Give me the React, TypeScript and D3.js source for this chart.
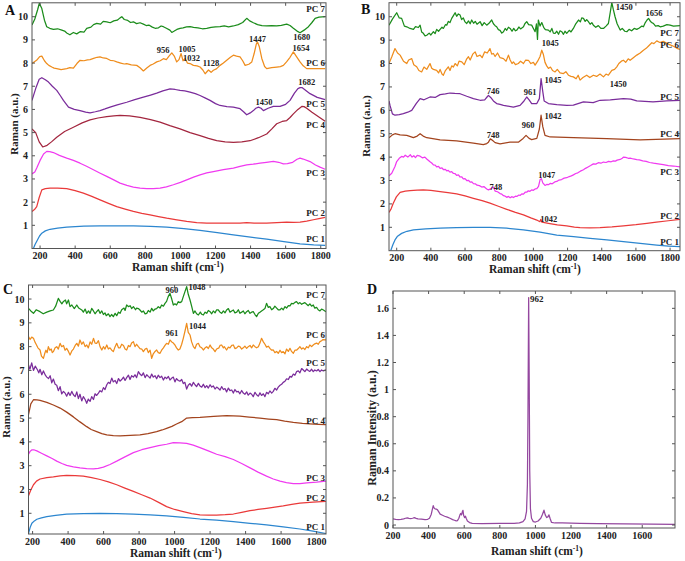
import React from "react";
import * as d3 from "d3";

type Pt = [number, number];

// ---------- tick values ----------
const xTicksPC = [200, 400, 600, 800, 1000, 1200, 1400, 1600, 1800];
const yTicksPC = [1, 2, 3, 4, 5, 6, 7, 8, 9, 10];
const xTicksD = [200, 400, 600, 800, 1000, 1200, 1400, 1600];
const yTicksD = [0, 0.2, 0.4, 0.6, 0.8, 1, 1.2, 1.4, 1.6];
const yTickLabelsD = ["0", "0.2", "0.4", "0.6", "0.8", "1", "1.2", "1.4", "1.6"];
const pcNames = ["PC 1", "PC 2", "PC 3", "PC 4", "PC 5", "PC 6", "PC 7"];

// ---------- Panel A ----------
const aPC7: Pt[] = [[154,9.64],[170,9.9],[186,10.3],[196,10.58],[210,10.35],[225,9.85],[238,9.57],[255,9.5],[276,9.45],[300,9.48],[324,9.42],[340,9.38],[352,9.3],[370,9.22],[390,9.32],[409,9.26],[430,9.36],[450,9.33],[466,9.5],[490,9.55],[505,9.66],[523,9.71],[545,9.68],[560,9.8],[580,9.78],[600,9.74],[620,9.82],[640,9.85],[656,9.95],[666,10.0],[680,9.88],[700,9.84],[716,9.75],[732,9.78],[750,9.7],[770,9.74],[789,9.68],[805,9.62],[820,9.64],[840,9.55],[856,9.5],[875,9.52],[890,9.6],[903,9.57],[920,9.5],[940,9.42],[951,9.32],[965,9.38],[980,9.45],[998,9.5],[1015,9.52],[1035,9.56],[1055,9.57],[1075,9.54],[1100,9.52],[1125,9.48],[1150,9.5],[1175,9.54],[1200,9.56],[1226,9.57],[1250,9.6],[1275,9.56],[1302,9.6],[1330,9.66],[1355,9.75],[1378,9.93],[1395,9.82],[1416,9.74],[1440,9.66],[1465,9.62],[1492,9.6],[1520,9.62],[1549,9.6],[1575,9.63],[1606,9.68],[1625,9.62],[1644,9.5],[1665,9.38],[1682,9.31],[1705,9.42],[1730,9.57],[1750,9.75],[1768,9.93],[1790,9.98],[1825,10.0]];
const aPC6: Pt[] = [[154,7.98],[180,8.12],[198,8.28],[210,8.3],[225,8.1],[238,7.98],[250,7.9],[267,7.83],[280,7.78],[295,7.76],[320,7.72],[352,7.76],[370,7.8],[390,7.78],[410,7.98],[428,8.12],[450,8.1],[470,8.14],[485,8.15],[505,8.2],[525,8.25],[542,8.27],[560,8.22],[580,8.2],[600,8.12],[620,8.1],[637,8.05],[660,8.0],[680,7.96],[694,7.98],[720,7.92],[751,7.9],[770,7.8],[789,7.66],[810,7.8],[827,7.9],[845,7.96],[865,8.05],[885,8.1],[903,8.19],[920,8.15],[935,8.3],[951,8.44],[965,8.3],[979,8.05],[992,8.15],[1004,8.41],[1015,8.1],[1027,8.2],[1040,8.0],[1055,7.98],[1074,7.9],[1095,7.88],[1112,7.83],[1128,7.7],[1141,7.54],[1160,7.7],[1175,7.6],[1188,7.69],[1205,7.75],[1226,7.9],[1245,8.0],[1264,8.12],[1285,8.25],[1302,8.34],[1320,8.3],[1340,8.27],[1355,8.1],[1369,7.9],[1390,7.95],[1407,8.05],[1420,8.4],[1432,8.8],[1439,8.92],[1450,8.7],[1464,8.2],[1480,7.85],[1492,7.76],[1520,7.8],[1549,7.83],[1570,7.85],[1587,7.9],[1605,8.05],[1625,8.25],[1644,8.48],[1660,8.3],[1682,8.05],[1700,7.88],[1720,7.76],[1760,7.76],[1825,7.76]];
const aPC5: Pt[] = [[154,6.39],[175,6.9],[195,7.3],[210,7.37],[230,7.28],[248,7.18],[270,7.0],[295,6.82],[315,6.6],[333,6.39],[362,6.1],[395,6.0],[428,5.95],[460,5.88],[485,5.85],[515,5.9],[542,5.95],[570,6.02],[599,6.1],[640,6.2],[694,6.31],[740,6.42],[789,6.53],[830,6.62],[865,6.7],[900,6.8],[941,6.89],[970,6.86],[998,6.82],[1025,6.8],[1055,6.75],[1085,6.68],[1112,6.6],[1140,6.5],[1169,6.39],[1200,6.25],[1226,6.17],[1265,6.12],[1302,6.1],[1340,6.03],[1360,5.9],[1378,5.77],[1398,5.85],[1416,5.95],[1430,6.05],[1445,6.1],[1460,6.05],[1473,5.95],[1500,6.05],[1530,6.13],[1568,6.13],[1600,6.22],[1625,6.39],[1650,6.7],[1670,6.9],[1682,6.94],[1695,6.94],[1715,6.82],[1739,6.68],[1780,6.52],[1825,6.42]];
const aPC4: Pt[] = [[154,5.16],[175,5.0],[195,4.6],[215,4.38],[240,4.45],[265,4.6],[295,4.8],[340,5.05],[390,5.23],[440,5.42],[485,5.55],[530,5.63],[580,5.69],[620,5.72],[656,5.74],[710,5.72],[770,5.66],[830,5.56],[884,5.45],[940,5.3],[998,5.16],[1055,5.0],[1112,4.87],[1160,4.75],[1207,4.65],[1255,4.6],[1302,4.58],[1350,4.6],[1397,4.65],[1445,4.78],[1492,4.94],[1520,5.15],[1549,5.38],[1580,5.48],[1606,5.52],[1625,5.65],[1644,5.81],[1670,6.0],[1692,6.13],[1705,6.12],[1720,6.05],[1750,5.88],[1777,5.74],[1825,5.49]];
const aPC3: Pt[] = [[154,3.22],[170,3.3],[181,3.47],[200,3.8],[220,4.08],[238,4.19],[255,4.18],[276,4.14],[310,4.02],[352,3.9],[390,3.8],[428,3.68],[465,3.55],[504,3.4],[540,3.26],[580,3.11],[620,2.96],[656,2.82],[695,2.72],[732,2.65],[770,2.6],[808,2.58],[846,2.58],[884,2.6],[920,2.66],[960,2.75],[1000,2.85],[1036,2.96],[1075,3.08],[1112,3.18],[1150,3.26],[1188,3.32],[1245,3.4],[1302,3.47],[1340,3.54],[1378,3.61],[1415,3.64],[1454,3.68],[1490,3.72],[1530,3.76],[1560,3.72],[1587,3.65],[1610,3.66],[1640,3.72],[1665,3.85],[1682,3.9],[1700,3.86],[1739,3.75],[1770,3.6],[1796,3.51],[1825,3.42]];
const aPC2: Pt[] = [[154,1.6],[168,1.68],[181,1.81],[195,2.2],[210,2.53],[230,2.58],[257,2.6],[300,2.6],[352,2.58],[400,2.5],[447,2.39],[495,2.25],[542,2.1],[590,1.95],[637,1.81],[685,1.7],[732,1.6],[780,1.52],[827,1.45],[875,1.38],[922,1.31],[980,1.24],[1036,1.17],[1093,1.12],[1150,1.09],[1226,1.09],[1302,1.09],[1340,1.1],[1378,1.12],[1420,1.09],[1460,1.1],[1492,1.09],[1550,1.12],[1606,1.14],[1645,1.13],[1682,1.14],[1720,1.18],[1758,1.24],[1790,1.29],[1825,1.34]];
const aPC1: Pt[] = [[162,0.0],[172,0.18],[185,0.37],[197,0.54],[210,0.66],[230,0.76],[257,0.83],[300,0.88],[352,0.92],[450,0.96],[542,0.98],[640,0.98],[732,0.98],[830,0.95],[922,0.92],[1020,0.86],[1112,0.78],[1210,0.69],[1302,0.59],[1400,0.49],[1492,0.4],[1590,0.3],[1682,0.2],[1760,0.16],[1825,0.14]];

// ---------- Panel B ----------
const bPC7: Pt[] = [[155,9.64],[175,9.9],[200,10.17],[215,9.95],[229,9.93],[245,9.6],[259,9.57],[278,9.5],[298,9.46],[310,9.58],[327,9.54],[337,9.64],[346,9.35],[356,9.29],[366,9.18],[376,9.21],[390,9.3],[400,9.22],[415,9.36],[425,9.28],[434,9.46],[445,9.38],[454,9.46],[465,9.55],[473,9.5],[485,9.66],[493,9.64],[502,9.8],[512,9.75],[522,9.93],[532,10.05],[542,10.17],[551,10.02],[561,10.12],[571,10.07],[580,9.88],[590,9.95],[600,9.78],[610,9.71],[620,9.82],[630,9.7],[639,9.86],[650,9.72],[660,9.8],[670,9.68],[688,9.79],[700,9.62],[712,9.75],[727,9.64],[740,9.72],[756,9.86],[766,9.7],[776,9.62],[785,9.57],[795,9.45],[805,9.42],[815,9.3],[825,9.36],[835,9.5],[844,9.42],[854,9.55],[864,9.5],[875,9.38],[885,9.5],[895,9.4],[903,9.43],[915,9.56],[925,9.48],[942,9.57],[950,9.7],[961,9.79],[972,9.66],[990,9.64],[1000,9.5],[1010,9.36],[1018,9.7],[1024,9.03],[1029,9.86],[1039,9.6],[1049,9.75],[1060,9.55],[1070,9.45],[1088,9.43],[1098,9.35],[1108,9.5],[1117,9.3],[1127,9.29],[1137,9.38],[1147,9.25],[1156,9.4],[1166,9.36],[1176,9.25],[1185,9.38],[1195,9.29],[1210,9.42],[1220,9.35],[1234,9.5],[1248,9.7],[1264,9.86],[1275,9.78],[1283,9.95],[1293,9.93],[1303,9.8],[1312,9.88],[1322,9.79],[1332,9.68],[1342,9.75],[1351,9.64],[1365,9.55],[1380,9.62],[1395,9.5],[1410,9.5],[1425,9.6],[1439,9.71],[1450,10.2],[1459,10.6],[1468,10.3],[1478,10.0],[1490,9.7],[1500,9.55],[1508,9.43],[1520,9.5],[1535,9.38],[1547,9.36],[1560,9.46],[1575,9.4],[1590,9.5],[1605,9.46],[1620,9.52],[1635,9.6],[1644,9.57],[1655,9.75],[1664,9.85],[1674,9.93],[1685,9.8],[1693,9.75],[1703,9.71],[1715,9.6],[1730,9.62],[1742,9.57],[1760,9.6],[1781,9.66],[1800,9.64],[1820,9.6],[1858,9.62]];
const bPC6: Pt[] = [[155,8.0],[172,8.3],[190,8.64],[205,8.45],[220,8.36],[240,8.1],[259,8.0],[270,8.15],[288,8.21],[300,7.95],[317,7.86],[330,7.7],[346,7.64],[360,7.85],[376,7.75],[395,8.0],[405,7.8],[415,7.75],[434,7.71],[445,7.6],[454,7.75],[465,7.55],[473,7.5],[485,7.7],[502,7.86],[512,7.7],[522,7.9],[532,7.85],[542,8.0],[555,7.9],[565,8.1],[581,8.07],[595,7.95],[610,8.2],[620,8.29],[630,8.15],[645,8.4],[659,8.5],[670,8.3],[688,8.36],[700,8.25],[715,8.5],[730,8.45],[746,8.64],[756,8.4],[766,8.43],[776,8.3],[790,8.45],[805,8.25],[825,8.21],[840,8.1],[854,8.36],[864,8.15],[875,8.0],[883,8.07],[895,7.95],[912,8.0],[925,8.1],[942,8.0],[955,8.15],[971,8.14],[985,8.0],[1000,8.05],[1010,7.93],[1025,8.1],[1039,8.3],[1049,8.57],[1058,8.4],[1068,8.05],[1078,7.9],[1088,7.79],[1100,7.85],[1112,7.7],[1127,7.64],[1140,7.75],[1156,7.6],[1176,7.57],[1190,7.65],[1205,7.5],[1220,7.45],[1234,7.43],[1250,7.35],[1262,7.5],[1273,7.29],[1290,7.4],[1312,7.5],[1330,7.4],[1351,7.5],[1370,7.45],[1390,7.55],[1410,7.43],[1425,7.55],[1439,7.5],[1459,7.71],[1475,7.75],[1488,7.86],[1500,8.0],[1515,8.1],[1527,8.14],[1540,8.05],[1555,8.2],[1566,8.14],[1585,8.25],[1605,8.36],[1625,8.45],[1644,8.57],[1660,8.65],[1674,8.75],[1693,8.89],[1705,8.85],[1722,8.97],[1740,8.9],[1760,8.95],[1781,8.86],[1800,8.8],[1820,8.74],[1840,8.65],[1858,8.6]];
const bPC5: Pt[] = [[155,6.4],[161,6.21],[175,5.85],[190,5.79],[215,5.82],[239,5.86],[265,5.92],[288,6.0],[315,6.3],[337,6.5],[360,6.45],[395,6.57],[425,6.55],[454,6.67],[485,6.7],[512,6.74],[540,6.72],[571,6.71],[610,6.6],[649,6.5],[688,6.43],[715,6.45],[730,6.58],[737,6.64],[750,6.55],[766,6.4],[785,6.29],[805,6.25],[825,6.21],[850,6.18],[883,6.14],[922,6.21],[945,6.4],[961,6.57],[975,6.45],[990,6.29],[1020,6.29],[1035,6.5],[1045,7.36],[1055,6.8],[1063,6.4],[1088,6.29],[1137,6.24],[1195,6.21],[1234,6.22],[1293,6.36],[1350,6.33],[1390,6.43],[1450,6.45],[1527,6.5],[1570,6.48],[1605,6.4],[1700,6.36],[1780,6.4],[1858,6.43]];
const bPC4: Pt[] = [[155,4.83],[175,4.95],[190,5.0],[220,4.95],[259,4.93],[298,4.83],[320,4.9],[337,5.0],[355,4.9],[376,4.83],[454,4.74],[551,4.69],[649,4.6],[707,4.53],[727,4.58],[737,4.64],[748,4.78],[760,4.72],[776,4.62],[805,4.57],[864,4.64],[912,4.64],[940,4.8],[957,4.93],[975,4.8],[990,4.75],[1020,4.8],[1035,5.2],[1045,5.79],[1055,5.3],[1068,4.93],[1098,4.86],[1234,4.83],[1429,4.79],[1625,4.74],[1858,4.79]];
const bPC3: Pt[] = [[155,3.2],[171,3.31],[190,3.6],[200,3.81],[215,3.95],[229,4.03],[240,4.0],[250,4.08],[265,4.0],[280,4.1],[290,4.0],[300,4.06],[310,3.98],[320,4.07],[337,4.04],[350,3.97],[365,4.0],[376,3.92],[395,3.8],[405,3.75],[415,3.67],[425,3.66],[434,3.58],[445,3.6],[454,3.52],[465,3.54],[473,3.47],[485,3.48],[493,3.41],[502,3.43],[512,3.36],[522,3.38],[532,3.3],[542,3.29],[551,3.22],[561,3.24],[571,3.15],[580,3.16],[590,3.07],[600,3.08],[610,3.0],[620,3.01],[630,2.93],[640,2.94],[649,2.87],[660,2.86],[670,2.8],[684,2.78],[698,2.72],[710,2.74],[727,2.64],[737,2.6],[746,2.63],[756,2.68],[766,2.72],[776,2.55],[790,2.52],[805,2.44],[815,2.42],[825,2.35],[835,2.33],[844,2.28],[854,2.32],[864,2.26],[875,2.31],[883,2.27],[895,2.33],[903,2.32],[915,2.38],[922,2.36],[932,2.43],[942,2.42],[952,2.5],[961,2.5],[970,2.56],[980,2.54],[990,2.6],[1000,2.58],[1010,2.64],[1020,2.65],[1030,2.75],[1039,3.03],[1047,3.08],[1055,2.9],[1068,2.79],[1078,2.83],[1088,2.82],[1100,2.88],[1110,2.86],[1125,2.94],[1137,2.96],[1150,3.02],[1165,3.04],[1180,3.1],[1195,3.12],[1210,3.17],[1222,3.2],[1234,3.24],[1248,3.3],[1260,3.33],[1275,3.4],[1293,3.46],[1305,3.52],[1320,3.58],[1335,3.64],[1351,3.71],[1365,3.7],[1380,3.76],[1395,3.74],[1410,3.79],[1425,3.77],[1440,3.82],[1455,3.8],[1468,3.84],[1480,3.83],[1490,3.87],[1508,3.9],[1520,3.95],[1527,4.0],[1540,3.99],[1555,3.95],[1566,3.96],[1585,3.92],[1605,3.89],[1620,3.88],[1640,3.84],[1660,3.82],[1680,3.77],[1703,3.74],[1730,3.71],[1760,3.68],[1790,3.64],[1820,3.62],[1858,3.58]];
const bPC2: Pt[] = [[155,1.63],[168,1.8],[180,2.03],[198,2.3],[220,2.49],[250,2.55],[278,2.57],[320,2.59],[356,2.6],[400,2.58],[454,2.53],[500,2.48],[551,2.43],[600,2.34],[649,2.24],[700,2.14],[746,2.03],[795,1.9],[844,1.77],[895,1.64],[942,1.53],[985,1.4],[1020,1.31],[1038,1.24],[1043,1.34],[1050,1.22],[1088,1.17],[1140,1.1],[1195,1.06],[1240,1.01],[1273,0.99],[1330,0.98],[1390,0.99],[1460,1.02],[1527,1.06],[1600,1.11],[1664,1.17],[1720,1.22],[1790,1.28],[1858,1.34]];
const bPC1: Pt[] = [[165,0.0],[177,0.24],[190,0.46],[205,0.62],[229,0.74],[260,0.83],[298,0.89],[370,0.93],[454,0.96],[550,0.99],[649,1.0],[746,1.0],[844,0.96],[942,0.89],[1039,0.79],[1137,0.67],[1235,0.6],[1332,0.53],[1430,0.46],[1527,0.39],[1625,0.31],[1722,0.24],[1790,0.2],[1858,0.17]];

// ---------- Panel C ----------
const cPC7: Pt[] = [[177,9.61],[190,9.5],[205,9.4],[220,9.55],[242,9.47],[260,9.38],[280,9.45],[299,9.5],[317,9.54],[330,9.7],[345,10.03],[355,9.9],[365,9.8],[374,9.9],[385,9.96],[392,9.8],[402,9.96],[411,9.68],[421,9.75],[435,9.6],[449,9.75],[460,9.62],[477,9.54],[486,9.45],[496,9.58],[505,9.4],[515,9.5],[524,9.4],[533,9.61],[543,9.5],[552,9.38],[561,9.47],[571,9.55],[580,9.4],[590,9.5],[599,9.35],[608,9.42],[615,9.3],[627,9.38],[636,9.26],[645,9.35],[655,9.26],[665,9.4],[674,9.3],[684,9.45],[693,9.4],[702,9.55],[715,9.62],[721,9.52],[730,9.75],[740,9.68],[750,9.72],[758,9.6],[768,9.68],[780,9.55],[786,9.62],[796,9.6],[805,9.54],[815,9.45],[824,9.5],[834,9.38],[843,9.4],[852,9.52],[862,9.45],[871,9.61],[880,9.5],[890,9.58],[899,9.6],[908,9.68],[918,9.62],[927,9.75],[937,9.7],[946,9.82],[955,9.9],[964,10.1],[974,10.24],[984,10.0],[993,9.75],[1002,9.8],[1011,9.75],[1021,9.89],[1030,9.85],[1040,9.89],[1049,10.1],[1058,10.3],[1068,10.52],[1077,10.2],[1087,9.96],[1096,9.7],[1106,9.4],[1115,9.5],[1124,9.38],[1134,9.33],[1145,9.45],[1153,9.36],[1162,9.33],[1172,9.45],[1181,9.4],[1190,9.52],[1200,9.47],[1209,9.38],[1218,9.5],[1228,9.42],[1237,9.55],[1245,9.55],[1256,9.45],[1265,9.4],[1275,9.5],[1284,9.42],[1293,9.54],[1303,9.6],[1312,9.45],[1322,9.5],[1331,9.54],[1340,9.42],[1350,9.45],[1359,9.55],[1368,9.4],[1378,9.45],[1387,9.5],[1396,9.38],[1406,9.47],[1415,9.52],[1425,9.4],[1434,9.45],[1443,9.47],[1453,9.35],[1462,9.26],[1472,9.4],[1481,9.45],[1490,9.5],[1500,9.55],[1509,9.6],[1518,9.82],[1528,9.65],[1537,9.68],[1547,9.55],[1556,9.6],[1565,9.7],[1575,9.62],[1584,9.55],[1594,9.55],[1603,9.62],[1612,9.55],[1622,9.68],[1631,9.62],[1641,9.72],[1650,9.71],[1659,9.82],[1669,9.8],[1678,9.86],[1687,9.89],[1697,9.8],[1706,9.85],[1716,9.78],[1725,9.82],[1734,9.85],[1744,9.78],[1753,9.72],[1762,9.8],[1772,9.7],[1781,9.75],[1790,9.62],[1800,9.65],[1809,9.55],[1819,9.5],[1828,9.58],[1836,9.55],[1853,9.47]];
const cPC6: Pt[] = [[177,8.42],[186,8.3],[195,8.4],[205,8.35],[213,8.2],[220,8.1],[230,7.95],[242,7.86],[250,7.6],[261,7.51],[268,7.7],[275,7.85],[282,7.75],[289,8.0],[297,7.85],[305,7.9],[311,7.75],[317,7.79],[327,7.95],[336,8.0],[345,7.9],[355,8.14],[364,8.0],[374,8.05],[383,7.85],[392,7.93],[402,7.8],[411,7.65],[421,7.82],[430,7.9],[440,8.05],[449,8.14],[458,8.02],[467,8.28],[477,8.1],[486,8.2],[496,8.0],[505,8.07],[514,7.95],[524,8.2],[533,8.1],[543,8.35],[552,8.15],[561,8.14],[571,8.25],[580,8.0],[590,7.86],[599,8.0],[608,7.9],[618,8.07],[627,7.9],[636,7.95],[646,7.85],[655,7.79],[665,8.0],[674,8.14],[684,7.95],[693,7.95],[702,8.1],[712,8.05],[721,7.9],[730,7.86],[740,8.05],[749,8.0],[758,8.15],[768,8.21],[777,8.0],[786,8.1],[796,8.0],[805,7.92],[815,7.9],[824,7.79],[834,7.9],[843,7.93],[852,7.75],[862,7.85],[871,7.51],[880,7.7],[890,7.8],[899,7.86],[908,7.75],[918,7.72],[927,7.85],[937,7.95],[946,8.05],[955,8.14],[965,8.1],[974,8.28],[984,8.2],[993,8.15],[1002,8.07],[1011,7.95],[1021,7.86],[1030,7.9],[1040,8.1],[1049,8.35],[1060,8.7],[1068,8.98],[1077,8.6],[1087,8.49],[1096,8.2],[1106,8.0],[1115,7.92],[1124,8.1],[1134,8.14],[1143,8.0],[1153,7.95],[1162,7.86],[1172,7.95],[1181,8.0],[1190,7.92],[1200,8.07],[1209,7.95],[1218,7.9],[1228,7.79],[1237,7.9],[1250,7.95],[1256,8.05],[1265,8.07],[1275,7.95],[1280,8.0],[1293,7.86],[1303,7.98],[1312,7.95],[1322,8.05],[1331,8.07],[1340,7.92],[1350,7.95],[1359,8.02],[1368,8.0],[1378,7.9],[1387,7.95],[1396,8.02],[1406,7.93],[1415,8.0],[1425,8.05],[1434,7.95],[1443,8.07],[1453,8.0],[1462,7.95],[1472,8.0],[1481,8.15],[1490,8.35],[1500,8.2],[1509,8.1],[1518,7.98],[1528,8.02],[1537,7.93],[1547,7.85],[1556,7.86],[1565,7.75],[1575,7.8],[1584,7.72],[1594,7.85],[1603,7.75],[1612,7.79],[1622,7.7],[1631,7.9],[1641,7.8],[1650,7.93],[1659,7.8],[1669,7.72],[1678,7.85],[1687,7.85],[1697,7.92],[1706,8.0],[1716,7.9],[1725,7.95],[1734,7.88],[1744,8.0],[1753,7.95],[1762,8.07],[1772,8.0],[1781,8.07],[1790,8.12],[1800,8.15],[1809,8.1],[1819,8.21],[1828,8.25],[1836,8.3],[1853,8.28]];
const cPC5: Pt[] = [[177,7.23],[185,7.05],[195,7.32],[205,7.0],[215,7.18],[228,7.02],[235,6.9],[242,7.05],[252,6.82],[261,6.98],[272,6.8],[280,6.72],[290,6.66],[299,6.78],[308,6.48],[317,6.64],[327,6.42],[336,6.38],[345,6.15],[355,6.32],[364,6.02],[374,6.12],[383,6.05],[392,5.92],[402,6.08],[411,5.95],[421,6.12],[430,5.98],[440,5.9],[449,6.1],[458,5.82],[467,6.0],[477,5.72],[486,5.9],[496,5.78],[505,5.62],[514,5.8],[524,5.7],[533,5.9],[543,5.78],[552,6.02],[561,5.95],[571,6.05],[580,6.15],[590,6.1],[599,6.28],[608,6.2],[618,6.4],[627,6.5],[636,6.45],[646,6.68],[655,6.52],[665,6.58],[674,6.45],[684,6.66],[693,6.55],[702,6.62],[712,6.72],[721,6.58],[730,6.7],[740,6.8],[749,6.62],[758,6.78],[768,6.72],[777,6.82],[786,6.7],[796,6.95],[805,6.85],[815,6.78],[824,6.9],[834,6.7],[843,6.82],[852,6.75],[862,6.68],[871,6.85],[880,6.72],[890,6.78],[899,6.65],[908,6.8],[918,6.7],[927,6.76],[937,6.6],[946,6.72],[955,6.66],[965,6.75],[974,6.6],[984,6.68],[993,6.72],[1002,6.52],[1011,6.66],[1021,6.58],[1030,6.55],[1040,6.62],[1049,6.45],[1058,6.5],[1068,6.22],[1077,6.38],[1087,6.45],[1096,6.34],[1106,6.5],[1115,6.4],[1124,6.32],[1134,6.46],[1143,6.35],[1153,6.3],[1162,6.42],[1172,6.28],[1181,6.36],[1190,6.26],[1200,6.4],[1209,6.3],[1218,6.35],[1228,6.22],[1237,6.3],[1246,6.25],[1256,6.18],[1265,6.32],[1275,6.2],[1284,6.24],[1293,6.1],[1303,6.26],[1312,6.15],[1322,6.18],[1331,6.05],[1340,6.2],[1350,6.1],[1359,6.12],[1368,6.02],[1378,6.16],[1387,6.05],[1396,6.0],[1406,6.1],[1415,5.96],[1425,6.05],[1434,6.0],[1443,5.9],[1453,6.08],[1462,5.98],[1472,5.92],[1481,6.06],[1490,5.95],[1500,6.02],[1509,5.9],[1518,6.08],[1528,6.02],[1537,6.14],[1547,6.05],[1556,6.12],[1565,6.25],[1575,6.18],[1584,6.3],[1594,6.38],[1603,6.42],[1612,6.5],[1622,6.55],[1631,6.65],[1641,6.62],[1650,6.75],[1659,6.72],[1669,6.85],[1678,6.8],[1687,6.95],[1697,6.98],[1706,6.9],[1716,7.08],[1725,7.02],[1734,6.95],[1744,7.06],[1753,7.0],[1762,6.96],[1772,7.05],[1781,6.95],[1790,7.02],[1800,6.98],[1809,7.04],[1819,6.95],[1828,7.02],[1838,6.98],[1853,7.03]];
const cPC4: Pt[] = [[177,5.14],[190,5.6],[205,5.77],[225,5.76],[242,5.74],[280,5.66],[317,5.55],[355,5.42],[392,5.25],[430,5.05],[467,4.84],[505,4.64],[530,4.52],[561,4.43],[590,4.35],[618,4.29],[655,4.26],[693,4.25],[750,4.27],[805,4.29],[850,4.35],[899,4.43],[930,4.5],[955,4.57],[985,4.65],[1011,4.75],[1040,4.85],[1068,5.0],[1100,5.02],[1143,5.03],[1220,5.07],[1293,5.1],[1368,5.08],[1420,5.04],[1481,5.0],[1530,4.96],[1575,4.93],[1620,4.87],[1669,4.82],[1720,4.78],[1762,4.76],[1810,4.74],[1853,4.72]];
const cPC3: Pt[] = [[177,3.48],[186,3.6],[195,3.66],[210,3.66],[224,3.62],[250,3.52],[280,3.41],[310,3.3],[336,3.19],[365,3.09],[392,3.01],[430,2.95],[467,2.91],[505,2.88],[543,2.87],[570,2.89],[599,2.94],[636,3.05],[674,3.19],[720,3.37],[768,3.55],[815,3.67],[862,3.76],[910,3.84],[955,3.9],[993,3.97],[1030,3.96],[1068,3.94],[1105,3.86],[1143,3.76],[1190,3.62],[1237,3.48],[1285,3.38],[1331,3.26],[1378,3.09],[1425,2.91],[1470,2.73],[1518,2.56],[1556,2.44],[1594,2.35],[1630,2.29],[1669,2.25],[1706,2.25],[1744,2.28],[1800,2.31],[1853,2.35]];
const cPC2: Pt[] = [[177,1.74],[190,1.98],[205,2.2],[222,2.35],[242,2.44],[280,2.5],[317,2.53],[355,2.57],[392,2.59],[440,2.58],[486,2.56],[533,2.5],[580,2.42],[627,2.32],[674,2.2],[720,2.06],[768,1.92],[815,1.78],[862,1.64],[910,1.46],[955,1.28],[1000,1.16],[1049,1.07],[1096,0.99],[1143,0.93],[1190,0.92],[1237,0.92],[1285,0.94],[1331,0.97],[1378,1.04],[1425,1.11],[1470,1.16],[1518,1.21],[1565,1.26],[1612,1.31],[1660,1.37],[1706,1.43],[1780,1.47],[1853,1.5]];
const cPC1: Pt[] = [[177,0.15],[186,0.4],[196,0.58],[210,0.68],[224,0.75],[250,0.81],[280,0.86],[330,0.91],[392,0.96],[486,0.99],[580,1.0],[674,0.99],[768,0.97],[862,0.93],[955,0.89],[1050,0.83],[1143,0.76],[1237,0.71],[1331,0.65],[1425,0.58],[1518,0.51],[1612,0.43],[1706,0.34],[1780,0.25],[1853,0.15]];

// ---------- Panel D ----------
const dSpectrum: Pt[] = [[200,0.045],[215,0.042],[230,0.04],[245,0.042],[260,0.045],[270,0.05],[280,0.052],[290,0.049],[300,0.048],[310,0.05],[320,0.054],[330,0.049],[340,0.045],[360,0.043],[380,0.04],[395,0.042],[405,0.05],[415,0.08],[420,0.11],[426,0.143],[431,0.125],[436,0.12],[443,0.118],[450,0.112],[458,0.095],[465,0.08],[478,0.072],[490,0.065],[505,0.058],[520,0.05],[535,0.04],[545,0.035],[555,0.03],[562,0.032],[570,0.05],[576,0.075],[580,0.085],[585,0.075],[590,0.1],[593,0.108],[597,0.07],[602,0.055],[607,0.065],[611,0.05],[618,0.03],[630,0.018],[645,0.012],[700,0.01],[800,0.012],[880,0.013],[910,0.016],[930,0.025],[942,0.045],[950,0.1],[955,0.3],[958,0.8],[962,1.68],[965,1.1],[968,0.4],[972,0.12],[978,0.05],[988,0.025],[1000,0.022],[1015,0.03],[1030,0.05],[1040,0.08],[1048,0.11],[1055,0.075],[1063,0.055],[1070,0.06],[1076,0.075],[1082,0.05],[1090,0.02],[1110,0.015],[1150,0.015],[1250,0.012],[1350,0.01],[1500,0.008],[1650,0.006],[1784,0.005]];

// ---------- colours ----------
const C_GREEN = "#1b8c1b";
const C_ORANGE = "#ef8d1d";
const C_PURPLE = "#7a2c9b";
const C_PC4_A = "#a3263f";
const C_PC4_BC = "#a3441e";
const C_MAGENTA = "#f03af0";
const C_RED = "#ea3a3a";
const C_BLUE = "#2c86cf";
const C_D = "#94479f";

const FONT = "'Liberation Serif', 'Times New Roman', Times, serif";
const AXIS = "#555";

type Series = { data: Pt[]; color: string };
type Label = { text: string; x: number; y: number; anchor?: string; size?: number };

type PanelCfg = {
  id: string;
  letter: string;
  letterPos: [number, number];
  xDomain: [number, number];
  xRange: [number, number];
  yDomain: [number, number];
  yRange: [number, number];
  xTicks: number[];
  yTicks: number[];
  yTickLabels?: string[];
  series: Series[];
  labels: Label[];
  xTitlePos: [number, number];
  yTitle: string;
  yTitlePos: [number, number];
  yTitleSize: number;
};

const Panel: React.FC<{ cfg: PanelCfg }> = ({ cfg }) => {
  const x = d3.scaleLinear().domain(cfg.xDomain).range(cfg.xRange);
  const y = d3.scaleLinear().domain(cfg.yDomain).range(cfg.yRange);
  const line = d3.line<Pt>().x((d) => x(d[0])).y((d) => y(d[1]));
  const [x0, x1] = cfg.xRange;
  const [yb, yt] = cfg.yRange;
  const clipId = "clip-" + cfg.id;
  const tl = 3;
  return (
    <g>
      <defs>
        <clipPath id={clipId}>
          <rect x={x0} y={yt} width={x1 - x0} height={yb - yt} />
        </clipPath>
      </defs>
      <rect x={x0} y={yt} width={x1 - x0} height={yb - yt} fill="#fff" />
      <g clipPath={`url(#${clipId})`}>
        {cfg.series.map((s, i) => (
          <path key={i} d={line(s.data) || ""} fill="none" stroke={s.color} strokeWidth={1.25} strokeLinejoin="round" />
        ))}
      </g>
      <rect x={x0} y={yt} width={x1 - x0} height={yb - yt} fill="none" stroke={AXIS} strokeWidth={1} />
      {cfg.xTicks.map((t) => (
        <g key={"xt" + t}>
          <line x1={x(t)} x2={x(t)} y1={yb} y2={yb - tl} stroke={AXIS} />
          <line x1={x(t)} x2={x(t)} y1={yt} y2={yt + tl} stroke={AXIS} />
          <text x={x(t)} y={yb + 10.5} textAnchor="middle" fontFamily={FONT} fontWeight="bold" fontSize={10} fill="#222">
            {t}
          </text>
        </g>
      ))}
      {cfg.yTicks.map((t, i) => (
        <g key={"yt" + t}>
          <line x1={x0} x2={x0 + tl} y1={y(t)} y2={y(t)} stroke={AXIS} />
          <line x1={x1} x2={x1 - tl} y1={y(t)} y2={y(t)} stroke={AXIS} />
          <text x={x0 - 4} y={y(t) + 3.5} textAnchor="end" fontFamily={FONT} fontWeight="bold" fontSize={10} fill="#222">
            {cfg.yTickLabels ? cfg.yTickLabels[i] : t}
          </text>
        </g>
      ))}
      {cfg.labels.map((l, i) => (
        <text key={"lb" + i} x={l.x === Infinity ? x1 - 1 : x(l.x)} y={y(l.y)} textAnchor={l.anchor || "middle"} fontFamily={FONT} fontWeight="bold" fontSize={l.size || 8.5} fill="#222">
          {l.text}
        </text>
      ))}
      <text x={cfg.xTitlePos[0]} y={cfg.xTitlePos[1]} textAnchor="middle" fontFamily={FONT} fontWeight="bold" fontSize={11.5} fill="#222">
        Raman shift (cm<tspan dy={-4} fontSize={7.5}>-1</tspan><tspan dy={4}>)</tspan>
      </text>
      <text transform={`translate(${cfg.yTitlePos[0]},${cfg.yTitlePos[1]}) rotate(-90)`} textAnchor="middle" fontFamily={FONT} fontWeight="bold" fontSize={cfg.yTitleSize} fill="#222">
        {cfg.yTitle}
      </text>
      <text x={cfg.letterPos[0]} y={cfg.letterPos[1]} fontFamily={FONT} fontWeight="bold" fontSize={14} fill="#111">
        {cfg.letter}
      </text>
    </g>
  );
};

const pcLabel = (i: number, yv: number): Label => ({ text: pcNames[i], x: Infinity, y: yv, anchor: "end", size: 9 });

const panelA: PanelCfg = {
  id: "A", letter: "A", letterPos: [5, 15],
  xDomain: [154, 1830], xRange: [32, 326], yDomain: [0, 10.6], yRange: [248.5, 2.8],
  xTicks: xTicksPC, yTicks: yTicksPC,
  series: [
    { data: aPC1, color: C_BLUE }, { data: aPC2, color: C_RED }, { data: aPC3, color: C_MAGENTA },
    { data: aPC4, color: C_PC4_A }, { data: aPC5, color: C_PURPLE }, { data: aPC6, color: C_ORANGE }, { data: aPC7, color: C_GREEN },
  ],
  labels: [
    pcLabel(6, 10.2), pcLabel(5, 7.87), pcLabel(4, 6.1), pcLabel(3, 5.2), pcLabel(2, 3.14), pcLabel(1, 1.39), pcLabel(0, 0.27),
    { text: "1680", x: 1692, y: 8.98 }, { text: "956", x: 901, y: 8.43 }, { text: "1005", x: 1038, y: 8.48 },
    { text: "1032", x: 1063, y: 8.08 }, { text: "1128", x: 1175, y: 7.89 }, { text: "1447", x: 1440, y: 8.91 },
    { text: "1654", x: 1688, y: 8.51 }, { text: "1682", x: 1720, y: 7.07 }, { text: "1450", x: 1477, y: 6.2 },
  ],
  xTitlePos: [178, 271], yTitle: "Raman (a.u.)", yTitlePos: [18, 124], yTitleSize: 11,
};

const panelB: PanelCfg = {
  id: "B", letter: "B", letterPos: [361, 14],
  xDomain: [155, 1858], xRange: [389, 680], yDomain: [0, 10.6], yRange: [250.7, 2.7],
  xTicks: xTicksPC, yTicks: yTicksPC,
  series: [
    { data: bPC1, color: C_BLUE }, { data: bPC2, color: C_RED }, { data: bPC3, color: C_MAGENTA },
    { data: bPC4, color: C_PC4_BC }, { data: bPC5, color: C_PURPLE }, { data: bPC6, color: C_ORANGE }, { data: bPC7, color: C_GREEN },
  ],
  labels: [
    pcLabel(6, 9.18), pcLabel(5, 8.66), pcLabel(4, 6.45), pcLabel(3, 4.86), pcLabel(2, 3.22), pcLabel(1, 1.35), pcLabel(0, 0.26),
    { text: "1450", x: 1532, y: 10.27 }, { text: "1656", x: 1706, y: 10.02 }, { text: "1045", x: 1098, y: 8.73 },
    { text: "1450", x: 1496, y: 7.0 }, { text: "1045", x: 1115, y: 7.17 }, { text: "746", x: 764, y: 6.71 },
    { text: "961", x: 981, y: 6.64 }, { text: "1042", x: 1115, y: 5.64 }, { text: "960", x: 969, y: 5.24 },
    { text: "748", x: 764, y: 4.82 }, { text: "748", x: 781, y: 2.58 }, { text: "1047", x: 1078, y: 3.11 },
    { text: "1042", x: 1090, y: 1.21 },
  ],
  xTitlePos: [535, 273], yTitle: "Raman (a.u.)", yTitlePos: [370, 126], yTitleSize: 11,
};

const panelC: PanelCfg = {
  id: "C", letter: "C", letterPos: [3, 294],
  xDomain: [177, 1853], xRange: [28.5, 326], yDomain: [0.13, 10.59], yRange: [534, 285],
  xTicks: xTicksPC, yTicks: yTicksPC,
  series: [
    { data: cPC1, color: C_BLUE }, { data: cPC2, color: C_RED }, { data: cPC3, color: C_MAGENTA },
    { data: cPC4, color: C_PC4_BC }, { data: cPC5, color: C_PURPLE }, { data: cPC6, color: C_ORANGE }, { data: cPC7, color: C_GREEN },
  ],
  labels: [
    pcLabel(6, 10.05), pcLabel(5, 8.37), pcLabel(4, 7.18), pcLabel(3, 4.76), pcLabel(2, 2.34), pcLabel(1, 1.53), pcLabel(0, 0.29),
    { text: "960", x: 985, y: 10.26 }, { text: "1048", x: 1126, y: 10.37 },
    { text: "961", x: 985, y: 8.46 }, { text: "1044", x: 1129, y: 8.76 },
  ],
  xTitlePos: [176, 557], yTitle: "Raman (a.u.)", yTitlePos: [10, 407], yTitleSize: 11,
};

const panelD: PanelCfg = {
  id: "D", letter: "D", letterPos: [367, 294],
  xDomain: [200, 1784], xRange: [393, 675], yDomain: [-0.022, 1.728], yRange: [528, 291],
  xTicks: xTicksD, yTicks: yTicksD, yTickLabels: yTickLabelsD,
  series: [{ data: dSpectrum, color: C_D }],
  labels: [{ text: "962", x: 1007, y: 1.647, size: 9 }],
  xTitlePos: [537, 555], yTitle: "Raman Intensity (a.u.)", yTitlePos: [376, 428], yTitleSize: 12,
};

export default function App() {
  return (
    <svg width={685} height={561} viewBox="0 0 685 561" style={{ position: "absolute", left: 0, top: 0, background: "#fff" }}>
      <rect x={0} y={0} width={685} height={561} fill="#fff" />
      <Panel cfg={panelA} />
      <Panel cfg={panelB} />
      <Panel cfg={panelC} />
      <Panel cfg={panelD} />
    </svg>
  );
}
